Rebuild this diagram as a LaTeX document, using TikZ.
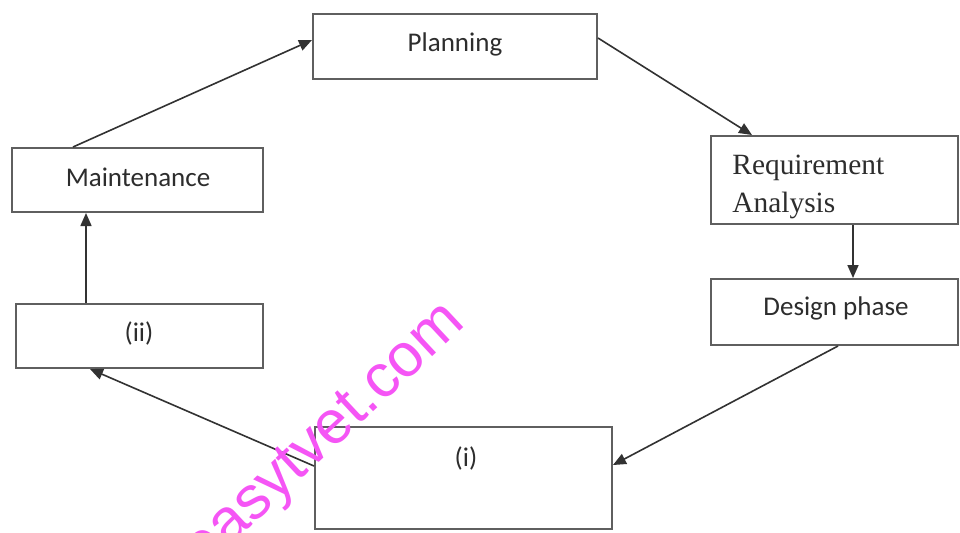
\documentclass[tikz,border=0pt]{standalone}
\usepackage{fontspec}
\setmainfont{Liberation Serif}
\newfontfamily\boxsans{Carlito}
\newfontfamily\wmfont{Liberation Sans}
\usetikzlibrary{arrows.meta,calc}
\definecolor{boxline}{RGB}{95,95,95}
\definecolor{arrowline}{RGB}{50,50,50}
\definecolor{inktext}{RGB}{45,45,45}
\definecolor{wmpink}{RGB}{245,85,245}
\tikzset{
  stagebox/.style={draw=boxline, line width=1pt, fill=white, inner sep=0pt},
  sanslabel/.style={font=\boxsans\fontsize{13.5}{16}\selectfont, text=inktext, inner sep=0pt},
  seriflabel/.style={font=\fontsize{14.7}{19}\selectfont, text=inktext, inner sep=0pt, align=left},
  flow/.style={draw=arrowline, line width=0.8pt, -{Triangle[length=6.5pt,width=5.5pt]}},
}
\begin{document}
\begin{tikzpicture}[x=0.5pt,y=-0.5pt]
\useasboundingbox (0,0) rectangle (960,532);
\fill[white] (0,0) rectangle (960,532);

% boxes
\node[stagebox, minimum width=142pt, minimum height=32.5pt] (plan) at (455,46.5) {};
\node[stagebox, minimum width=125.5pt, minimum height=32pt] (maint) at (137.5,180) {};
\node[stagebox, minimum width=123.5pt, minimum height=44pt] (req) at (834.5,180) {};
\node[stagebox, minimum width=123.5pt, minimum height=33pt] (design) at (834.5,312) {};
\node[stagebox, minimum width=123.5pt, minimum height=32pt] (two) at (139.5,336) {};
\node[stagebox, minimum width=148.5pt, minimum height=51pt] (one) at (463.5,478) {};

% labels
\node[sanslabel] (plantext) at (455,44) {Planning};
\node[sanslabel] (mainttext) at (138,177) {Maintenance};
\node[seriflabel, anchor=north west] (reqtext) at (732,155) {Requirement\\Analysis};
\node[sanslabel] (designtext) at (836,308) {Design phase};
\node[sanslabel] (twotext) at (139,333) {(ii)};
\node[sanslabel] (onetext) at (466,458) {(i)};

% connectors
\draw[flow] ($(maint.north west)+(62,0)$) -- ($(plan.west)+(0,-6.5)$);
\draw[flow] ($(plan.east)+(0,-8.5)$) -- ($(req.north west)+(42,0)$);
\draw[flow] ($(req.south)+(18.5,0)$) -- ($(design.north)+(18.5,0)$);
\draw[flow] ($(design.south)+(3.5,0)$) -- ($(one.east)+(0,-13)$);
\draw[flow] ($(one.west)+(0,-12)$) -- ($(two.south)+(-49.5,0)$);
\draw[flow] ($(two.north)+(-53.5,0)$) -- ($(maint.south)+(-51.5,0)$);

% watermark
\begin{scope}
\clip (0,0) rectangle (960,532);
\node[font=\wmfont\fontsize{30.5}{31}\selectfont, text=wmpink, rotate=43, inner sep=0pt] (watermark) at (326,438) {easytvet.com};
\end{scope}
\end{tikzpicture}
\end{document}
